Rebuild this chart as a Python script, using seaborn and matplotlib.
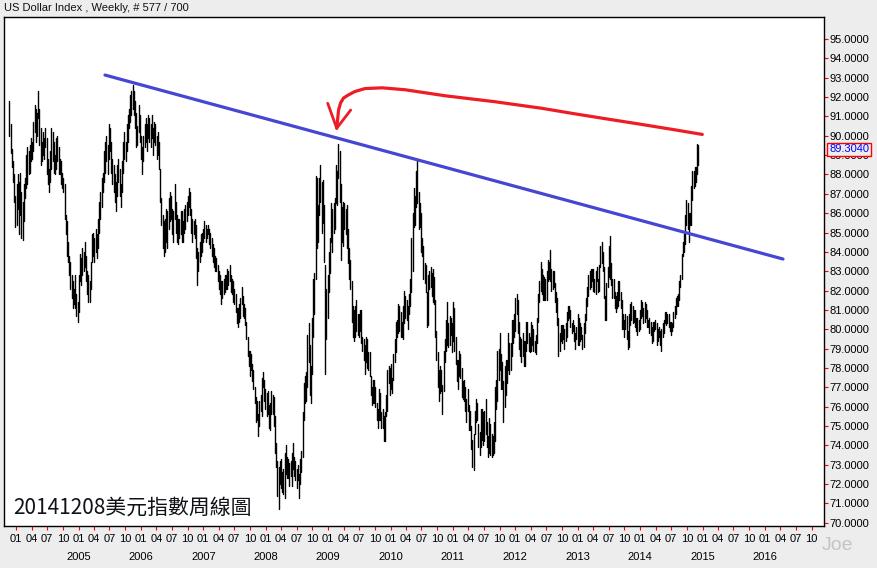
import numpy as np
import pandas as pd
import matplotlib
matplotlib.use("Agg")
import matplotlib.pyplot as plt
import matplotlib.dates as mdates
import matplotlib.transforms as mtrans
from matplotlib.ticker import FormatStrFormatter
import seaborn as sns

# ---------------- weekly bars (high / low) ----------------
H03 = [91.8, 90.6, 89.3, 88.7, 88.0, 86.9]
L03 = [90.0, 89.1, 88.4, 87.6, 86.6, 85.3]

H04 = [87.5, 88.0, 87.6, 88.1, 87.1, 86.6, 87.5, 87.8, 89.0, 89.4, 89.2, 89.5, 89.9, 89.7, 90.7, 91.6,
       91.4, 91.2, 92.3, 91.4, 90.4, 89.7, 90.2, 89.9, 90.4, 89.9, 88.8, 88.3, 89.2, 90.4, 90.2, 89.7,
       89.0, 89.9, 90.0, 89.4, 88.8, 88.7, 88.1, 87.8, 87.5, 85.9, 85.6, 84.5, 83.8, 83.5, 82.8, 82.5,
       82.1, 82.8, 81.8, 81.4]
L04 = [85.4, 86.2, 84.9, 85.9, 84.7, 84.6, 85.6, 86.8, 87.3, 87.5, 88.0, 88.1, 88.7, 88.8, 89.2, 90.2,
       89.7, 90.0, 90.9, 89.5, 88.5, 88.7, 89.0, 88.8, 89.4, 88.0, 87.5, 87.1, 87.6, 88.3, 88.7, 88.1,
       88.0, 88.3, 88.7, 88.0, 88.0, 87.5, 87.3, 87.1, 85.7, 84.9, 83.8, 83.5, 82.8, 82.1, 81.6, 81.1,
       81.3, 81.1, 80.7, 80.4]

H05 = [82.8, 83.9, 83.7, 84.2, 84.0, 84.5, 83.8, 83.0, 82.8, 82.5, 83.5, 84.9, 85.0, 84.7, 85.2, 84.9,
       85.7, 86.6, 87.1, 87.8, 88.1, 89.2, 89.7, 90.0, 89.5, 90.6, 90.4, 89.7, 88.8, 88.5, 88.0, 87.6,
       88.5, 88.8, 88.3, 87.5, 88.7, 89.7, 90.2, 89.7, 90.6, 91.1, 91.4, 92.1, 92.3, 92.6, 92.3, 91.8,
       91.2, 90.5, 91.6, 91.1]
L05 = [80.9, 82.5, 82.3, 82.8, 83.0, 83.2, 82.5, 81.8, 81.4, 81.4, 82.1, 83.5, 83.8, 83.5, 84.0, 83.7,
       84.2, 85.0, 85.7, 86.3, 87.1, 87.6, 88.1, 88.7, 88.0, 88.8, 89.2, 88.1, 87.5, 87.1, 86.6, 86.1,
       86.9, 87.6, 86.9, 86.3, 87.1, 88.1, 88.8, 88.7, 89.2, 89.7, 90.4, 90.7, 91.1, 91.4, 91.1, 90.4,
       89.4, 89.5, 90.2, 89.7]

H06 = [90.0, 89.4, 90.0, 90.6, 90.9, 90.6, 91.1, 90.9, 90.6, 91.1, 90.4, 90.7, 90.6, 90.0, 90.2, 89.7,
       88.3, 86.8, 85.9, 85.6, 85.7, 86.2, 86.1, 86.8, 87.1, 86.9, 86.2, 86.1, 87.5, 86.6, 85.9, 85.7,
       85.7, 86.1, 86.1, 85.6, 86.2, 86.4, 86.6, 86.9, 87.3, 87.1, 86.2, 85.7, 85.6, 85.7, 85.4, 84.2,
       84.0, 84.5, 84.9, 85.0]
L06 = [88.8, 88.0, 88.7, 89.4, 89.7, 89.2, 89.9, 89.7, 89.4, 89.9, 89.0, 89.7, 89.5, 88.8, 89.0, 88.3,
       86.6, 85.4, 84.2, 83.8, 84.0, 84.5, 84.2, 85.2, 85.6, 85.7, 84.9, 84.5, 85.7, 85.0, 84.5, 84.4,
       84.7, 84.9, 84.5, 84.5, 85.0, 85.2, 85.6, 85.9, 86.3, 85.9, 85.0, 84.5, 84.9, 84.7, 83.7, 82.3,
       83.0, 83.5, 83.8, 84.0]

H07 = [85.2, 85.6, 85.4, 85.2, 85.4, 85.2, 85.0, 84.7, 84.4, 84.2, 83.8, 83.7, 83.3, 83.0, 82.8, 82.5,
       82.5, 82.6, 82.8, 82.8, 83.1, 83.0, 83.3, 82.8, 82.6, 82.5, 82.1, 81.8, 81.1, 81.1, 81.3, 81.6,
       82.2, 81.7, 81.3, 81.1, 80.4, 79.6, 78.9, 78.9, 78.7, 78.2, 77.9, 77.0, 76.5, 76.3, 75.6, 76.3,
       76.6, 77.5, 77.8, 77.4, 76.9]
L07 = [84.5, 84.7, 84.5, 84.7, 84.9, 84.4, 84.2, 83.8, 83.5, 83.2, 83.0, 83.0, 82.5, 82.1, 81.8, 81.3,
       81.6, 81.8, 81.9, 82.1, 82.1, 82.3, 82.5, 81.9, 81.8, 81.4, 81.3, 80.9, 80.3, 80.1, 80.4, 80.6,
       81.3, 80.7, 80.6, 80.2, 79.5, 78.6, 78.1, 77.6, 77.9, 77.3, 76.9, 76.2, 75.2, 75.3, 74.5, 75.0,
       75.8, 75.5, 77.0, 76.3, 75.9]

H08 = [76.7, 76.8, 76.1, 76.2, 76.8, 76.6, 76.5, 75.5, 74.1, 73.2, 72.9, 73.2, 73.3, 72.6, 72.8, 73.6,
       74.0, 73.4, 73.3, 73.1, 73.2, 73.6, 74.1, 73.4, 73.2, 72.8, 73.0, 72.5, 73.3, 73.7, 75.7, 77.2,
       77.6, 77.8, 79.7, 80.3, 79.2, 78.1, 80.6, 82.6, 82.9, 87.9, 87.8, 86.4, 87.8, 88.5, 87.6, 87.7,
       86.4, 83.3, 82.1, 82.8]
L08 = [75.5, 75.6, 74.9, 74.8, 75.6, 75.6, 75.0, 73.6, 72.9, 71.4, 70.7, 72.0, 71.8, 71.6, 71.5, 71.3,
       72.5, 72.3, 72.3, 71.9, 72.4, 71.9, 72.8, 72.4, 72.2, 71.8, 72.2, 71.3, 72.0, 72.6, 73.4, 75.3,
       76.2, 76.3, 77.0, 78.3, 76.6, 76.2, 77.7, 79.6, 80.8, 82.6, 84.2, 84.5, 85.9, 86.6, 85.0, 85.5,
       83.5, 77.7, 79.5, 80.6]

H09 = [84.0, 84.7, 86.5, 86.2, 86.5, 86.8, 88.5, 88.2, 89.6, 89.2, 87.5, 86.3, 86.6, 86.5, 86.2, 86.4,
       85.2, 84.2, 83.6, 82.5, 81.2, 81.0, 81.2, 81.5, 80.8, 80.8, 81.0, 81.0, 79.6, 79.5, 79.2, 79.6,
       79.5, 78.8, 78.8, 77.6, 77.0, 77.4, 77.4, 77.0, 76.2, 75.9, 76.9, 76.7, 75.7, 75.9, 75.5, 75.7,
       76.6, 77.9, 78.1, 78.0]
L09 = [81.9, 82.9, 84.5, 84.0, 85.0, 85.2, 86.5, 86.4, 87.8, 86.6, 83.6, 84.5, 84.3, 85.2, 84.9, 84.2,
       83.4, 82.6, 82.1, 80.4, 79.6, 79.4, 79.6, 79.9, 79.7, 79.6, 79.9, 79.3, 78.9, 78.4, 77.7, 78.3,
       78.0, 77.9, 77.6, 76.6, 76.1, 76.2, 76.2, 76.0, 75.3, 74.9, 75.3, 75.3, 74.9, 74.9, 74.2, 74.2,
       75.5, 75.8, 77.2, 76.6]

H10 = [78.2, 77.5, 78.7, 79.5, 80.4, 80.5, 81.3, 81.2, 80.9, 80.4, 81.2, 82.0, 81.7, 81.5, 81.2, 81.8,
       82.6, 84.7, 86.0, 87.3, 86.9, 88.2, 88.7, 87.1, 86.5, 86.0, 84.7, 84.3, 83.4, 83.3, 81.9, 82.8,
       83.0, 83.2, 82.9, 83.1, 82.7, 81.5, 79.9, 78.8, 77.9, 78.1, 77.9, 77.1, 78.9, 79.5, 80.5, 81.4,
       80.3, 80.7, 80.6, 80.3]
L10 = [76.9, 76.7, 77.4, 78.3, 78.8, 79.6, 79.8, 79.9, 79.6, 79.6, 79.5, 80.3, 80.6, 80.5, 80.0, 80.8,
       81.2, 81.9, 83.0, 85.3, 85.4, 86.3, 86.5, 85.2, 85.3, 84.0, 83.8, 82.6, 82.4, 81.9, 80.1, 80.2,
       82.1, 82.2, 81.7, 81.4, 81.3, 79.6, 78.4, 77.0, 76.3, 76.7, 76.8, 75.6, 76.8, 78.3, 78.9, 79.2,
       79.1, 79.2, 79.7, 78.8]

H11 = [81.4, 81.1, 79.6, 78.4, 78.4, 78.9, 78.7, 78.0, 77.3, 77.4, 77.0, 76.4, 76.9, 76.1, 75.8, 75.0,
       74.3, 74.6, 75.8, 76.4, 76.2, 75.1, 74.7, 75.9, 75.9, 75.7, 75.8, 76.4, 75.2, 74.5, 75.4, 75.1,
       74.6, 74.5, 75.2, 77.0, 77.4, 78.9, 79.0, 79.8, 78.7, 78.3, 77.3, 78.1, 78.4, 78.4, 79.8, 79.3,
       79.3, 80.5, 80.5, 80.8]
L11 = [79.4, 78.9, 78.2, 77.3, 76.9, 77.6, 77.5, 76.5, 76.4, 76.3, 75.8, 75.2, 75.8, 74.8, 74.8, 73.8,
       72.9, 72.7, 74.6, 75.2, 75.3, 73.9, 73.5, 73.9, 74.3, 74.0, 74.2, 74.6, 73.9, 73.4, 73.6, 73.5,
       73.4, 73.5, 73.6, 74.2, 75.9, 76.3, 77.4, 77.9, 76.9, 76.9, 75.2, 76.0, 76.6, 77.2, 77.9, 77.7,
       77.9, 78.6, 79.3, 79.6]

H12 = [81.6, 81.8, 81.5, 80.4, 79.6, 79.5, 79.8, 79.4, 79.4, 80.4, 80.4, 79.8, 79.6, 80.4, 80.2, 80.0,
       79.4, 79.7, 80.6, 81.8, 82.5, 83.5, 83.1, 82.8, 82.7, 82.6, 83.0, 83.6, 83.5, 84.1, 83.1, 83.0,
       83.0, 82.4, 81.9, 81.6, 80.6, 79.8, 80.2, 80.2, 80.2, 80.0, 80.3, 80.9, 81.2, 81.2, 81.0, 80.3,
       80.5, 80.2, 79.8, 80.1, 80.8]
L12 = [79.9, 80.8, 79.8, 79.0, 78.6, 78.3, 78.6, 78.1, 78.1, 78.9, 79.3, 78.9, 78.8, 78.9, 79.2, 78.9,
       78.8, 78.7, 79.3, 80.4, 81.4, 82.0, 81.8, 81.5, 81.5, 81.5, 81.5, 82.5, 82.6, 82.5, 82.0, 82.1,
       82.2, 81.4, 80.9, 80.2, 78.6, 78.9, 79.4, 79.3, 79.5, 79.0, 79.4, 79.6, 80.5, 80.6, 80.1, 79.8,
       79.9, 79.4, 79.0, 79.5, 79.2]

H13 = [80.6, 80.3, 80.1, 79.7, 80.3, 80.8, 81.6, 82.2, 82.8, 83.0, 83.1, 83.1, 83.1, 82.6, 83.0, 83.2,
       82.6, 83.3, 84.3, 84.5, 84.0, 83.2, 81.7, 82.4, 83.2, 84.3, 84.8, 83.4, 82.6, 82.6, 81.9, 81.7,
       81.9, 82.5, 82.5, 81.9, 81.5, 80.8, 80.5, 80.8, 80.7, 79.9, 80.8, 81.3, 81.4, 81.2, 81.0, 81.0,
       80.6, 80.6, 80.5, 81.0]
L13 = [79.2, 79.4, 79.5, 79.0, 79.1, 79.8, 80.5, 81.2, 81.7, 82.1, 82.2, 82.5, 82.0, 81.9, 81.8, 82.5,
       81.9, 82.0, 83.2, 83.4, 83.0, 81.6, 80.5, 80.5, 82.2, 82.7, 82.6, 82.3, 81.6, 81.6, 81.1, 80.9,
       81.1, 81.2, 81.5, 81.1, 80.0, 80.0, 79.6, 80.0, 79.5, 79.0, 79.1, 80.2, 80.5, 80.3, 80.4, 80.1,
       79.9, 79.7, 79.9, 80.0]

H14 = [81.5, 81.4, 81.1, 81.4, 81.3, 81.0, 80.5, 80.6, 80.4, 80.1, 80.4, 80.4, 80.5, 80.3, 80.0, 80.1,
       79.9, 80.0, 80.3, 80.5, 80.9, 80.9, 80.8, 80.8, 80.4, 80.4, 80.3, 80.9, 81.2, 81.6, 81.7, 81.8,
       82.5, 82.8, 83.9, 84.5, 84.9, 85.9, 86.7, 86.5, 86.0, 86.0, 87.4, 88.2, 88.2, 88.4, 88.4, 89.6,
       89.5]
L14 = [80.6, 80.7, 80.3, 80.4, 80.6, 80.1, 80.1, 79.8, 79.7, 79.3, 79.4, 79.9, 80.0, 79.2, 79.4, 79.6,
       79.2, 78.9, 79.6, 79.8, 80.3, 80.2, 80.3, 80.1, 79.9, 79.7, 79.9, 80.1, 80.6, 80.8, 81.2, 81.2,
       81.5, 82.2, 82.6, 83.8, 84.0, 84.4, 85.4, 85.2, 84.5, 85.4, 85.4, 86.7, 87.3, 87.4, 87.6, 88.0,
       88.5]

LAST_CLOSE = 89.3040
LAST_DATE = "2014-12-08"

# trend line (blue) and hand-drawn arrow curve (red), in chart units (decimal year, index value)
BLUE_T = [2005.426, 2016.290]
BLUE_V = [93.14, 83.63]
RED_T = [2009.139, 2009.156, 2009.169, 2009.200, 2009.248, 2009.325, 2009.432, 2009.592, 2009.865,
         2010.233, 2010.874, 2011.675, 2012.428, 2012.909, 2013.449, 2013.982, 2014.516, 2014.997]
RED_V = [90.39, 90.92, 91.33, 91.69, 91.95, 92.11, 92.29, 92.44, 92.48,
         92.38, 92.07, 91.76, 91.42, 91.16, 90.88, 90.61, 90.33, 90.07]
ARROW_T = [2008.995, 2009.139, 2009.363]
ARROW_V = [91.68, 90.39, 91.33]

YEARS = list(range(2005, 2017))
TITLE = "US Dollar Index , Weekly, # 577 / 700"
NOTE = "20141208美元指數周線圖"
# -------------------------------------------------------------------------------

HIGH = H03 + H04 + H05 + H06 + H07 + H08 + H09 + H10 + H11 + H12 + H13 + H14
LOW = L03 + L04 + L05 + L06 + L07 + L08 + L09 + L10 + L11 + L12 + L13 + L14
n = len(HIGH)
dates = pd.date_range(end=LAST_DATE, periods=n, freq="W-MON")


def yr(t):
    t = np.atleast_1d(np.asarray(t, dtype=float))
    return pd.Timestamp("2004-01-01") + pd.to_timedelta((t - 2004.0) * 365.25, unit="D")


sns.set_style("white")
plt.rcParams["font.family"] = ["Liberation Sans", "DejaVu Sans"]

BG = "#EDEDED"
fig = plt.figure(figsize=(8.78, 5.68), dpi=100, facecolor=BG)
ax = fig.add_axes([4 / 878, 42 / 568, 820 / 878, 509 / 568])
ax.set_facecolor("white")

bars = pd.DataFrame({
    "date": np.concatenate([dates.values, dates.values]),
    "price": HIGH + LOW,
    "week": list(range(n)) * 2,
})
sns.lineplot(data=bars, x="date", y="price", units="week", estimator=None,
             color="black", linewidth=1.0, ax=ax, legend=False)

sns.lineplot(x=yr(BLUE_T), y=BLUE_V, color="#4646D2", linewidth=2.3, ax=ax,
             sort=False, estimator=None)
sns.lineplot(x=yr(RED_T), y=RED_V, color="#EE1C24", linewidth=2.3, ax=ax,
             sort=False, estimator=None)
sns.lineplot(x=yr(ARROW_T), y=ARROW_V, color="#EE1C24", linewidth=2.0, ax=ax,
             sort=False, estimator=None)

ax.set_xlabel("")
ax.set_ylabel("")
x0, x1 = yr([2003.808, 2016.947])
ax.set_xlim(x0, x1)
ax.set_ylim(69.83, 96.14)

# y axis on the right
ax.yaxis.tick_right()
ax.set_yticks(np.arange(70, 96, 1))
ax.yaxis.set_major_formatter(FormatStrFormatter("%.4f"))
ax.tick_params(axis="y", which="major", direction="out", length=3, width=0.8,
               color="red", pad=1.2, labelsize=8, labelcolor="black",
               right=True, left=False)

# x axis: quarter months, years underneath
quarters = pd.date_range("2004-01-01", "2016-10-01", freq="QS")
ax.set_xticks(mdates.date2num(quarters))
ax.set_xticklabels([f"{d.month:02d}" for d in quarters])
ax.tick_params(axis="x", which="major", direction="out", length=3, width=0.8,
               color="red", pad=3, labelsize=8, labelcolor="black", bottom=True)

blend = mtrans.blended_transform_factory(ax.transData, ax.transAxes)
for y in YEARS:
    ax.text(mdates.date2num(pd.Timestamp(y, 1, 1)), -0.061, str(y), transform=blend,
            ha="center", va="center", fontsize=8, color="black", clip_on=False)

for s in ax.spines.values():
    s.set_color("black")
    s.set_linewidth(1.0)
    s.set_visible(True)

# last price box
blend_y = mtrans.blended_transform_factory(ax.transAxes, ax.transData)
ax.text(1.0063, LAST_CLOSE, f"{LAST_CLOSE:.4f}", transform=blend_y, color="#0000FF",
        fontsize=8, ha="left", va="center", clip_on=False, zorder=10,
        bbox=dict(boxstyle="square,pad=0.15", fc=BG, ec="red", lw=1.0))

fig.text(4 / 878, 1 - 8 / 568, TITLE, ha="left", va="center", fontsize=8, color="#111111")
fig.text(13 / 878, 1 - 508 / 568, NOTE, ha="left", va="center", fontsize=15,
         color="#111118", family=["Noto Sans CJK TC", "DejaVu Sans"])
fig.text(837 / 878, 1 - 545 / 568, "Joe", ha="center", va="center", fontsize=14,
         color="#C4C4C4")

fig.savefig("out.png", dpi=100, facecolor=BG)
